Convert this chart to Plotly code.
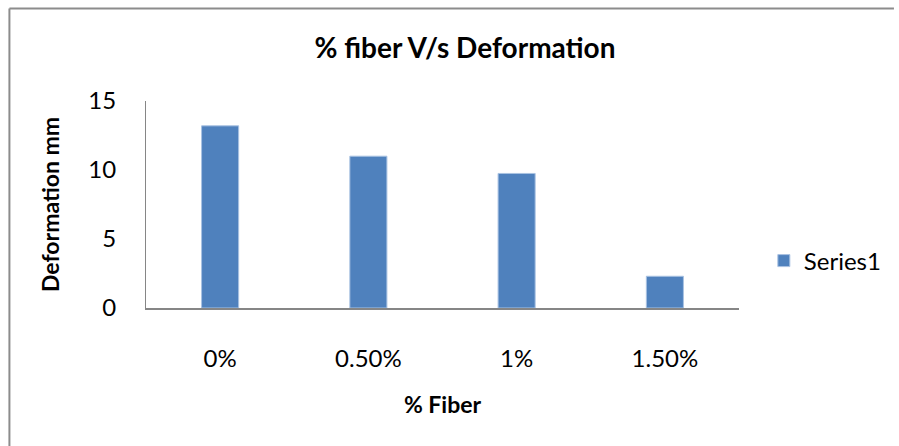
import plotly.graph_objects as go

# Fibre content and measured deformation
fiber_pct = ["0%", "0.50%", "1%", "1.50%"]
deformation_mm = [13.2, 11.0, 9.75, 2.3]
y_ticks = [0, 5, 10, 15]

W, H = 899, 446
ML, MR, MT, MB = 146, 156, 101, 138
PW, PH = W - ML - MR, H - MT - MB

FONT = "Lato, Carlito, Calibri, sans-serif"
AXIS_GRAY = "#868686"

fig = go.Figure()
fig.add_trace(go.Bar(
    x=fiber_pct,
    y=deformation_mm,
    name="Series1",
    marker=dict(color="#4F81BD", line=dict(color="#A9C2E2", width=1)),
    width=0.25,
))


def px_x(p):
    return (p - ML) / PW


def px_y(p):
    return (H - MB - p) / PH


# outer chart frame (top and left edges)
frame = dict(color="#8C8C8C", width=2)
fig.add_shape(type="line", xref="paper", yref="paper",
              x0=px_x(8.5), x1=px_x(W), y0=px_y(8.5), y1=px_y(8.5), line=frame)
fig.add_shape(type="line", xref="paper", yref="paper",
              x0=px_x(8.5), x1=px_x(8.5), y0=px_y(8.5), y1=px_y(H), line=frame)

fig.update_layout(
    width=W, height=H,
    margin=dict(l=ML, r=MR, t=MT, b=MB),
    paper_bgcolor="white", plot_bgcolor="white",
    font=dict(family=FONT, size=24, color="#000000"),
    title=dict(text="<b>% fiber V/s Deformation</b>", x=465 / W, xanchor="center",
               y=1 - 48 / H, yanchor="middle", font=dict(size=28, family=FONT)),
    showlegend=True,
    legend=dict(x=px_x(768), xanchor="left", y=px_y(261), yanchor="middle",
                font=dict(size=24, family=FONT), bgcolor="rgba(0,0,0,0)",
                itemwidth=30),
    bargap=0.75,
)
fig.update_xaxes(
    showline=True, linecolor=AXIS_GRAY, linewidth=2, ticks="",
    showgrid=False, ticklabelstandoff=28,
    title=dict(text="<b>% Fiber</b>", font=dict(size=23, family=FONT), standoff=26),
)
fig.update_yaxes(
    range=[0, 15], tickvals=y_ticks, showline=True, linecolor=AXIS_GRAY, linewidth=1,
    ticks="", showgrid=False, zeroline=False, ticklabelstandoff=24,
    title=dict(text="<b>Deformation mm</b>", font=dict(size=23, family=FONT), standoff=22),
)

fig.write_html("out.html")
